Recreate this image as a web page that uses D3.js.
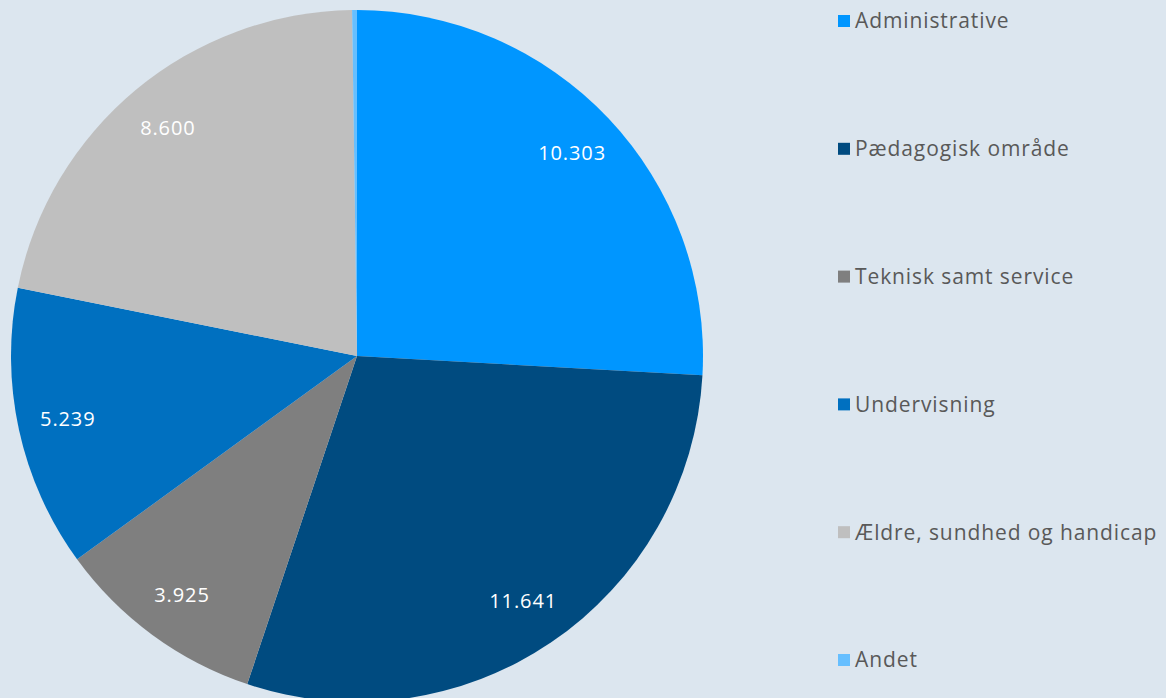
<!DOCTYPE html>
<html>
<head>
<meta charset="utf-8">
<script src="https://cdn.jsdelivr.net/npm/d3@7"></script>
<style>
  body { margin: 0; background: #dce6ef; }
  svg { display: block; }
</style>
</head>
<body>
<div id="chart"></div>
<script>
// Data
const categories = ["Administrative", "Pædagogisk område", "Teknisk samt service", "Undervisning", "Ældre, sundhed og handicap", "Andet"];
const values = [10303, 11641, 3925, 5239, 8600, 90];
const labels = ["10.303", "11.641", "3.925", "5.239", "8.600", ""];
const colors = ["#0096ff", "#004b80", "#7f7f7f", "#0070c0", "#bfbfbf", "#66bfff"];

const width = 1166;
const height = 698;
const cx = 357, cy = 356, radius = 346;
const font = "'Open Sans', 'Noto Sans', sans-serif";

const data = categories.map((c, i) => ({ name: c, value: values[i], label: labels[i], color: colors[i] }));

const svg = d3.select("#chart")
    .append("svg")
    .attr("width", width)
    .attr("height", height);

svg.append("rect")
    .attr("width", width)
    .attr("height", height)
    .attr("fill", "#dce6ef");

const pie = d3.pie()
    .value(d => d.value)
    .sort(null);

const arc = d3.arc()
    .innerRadius(0)
    .outerRadius(radius);

const labelArc = d3.arc()
    .innerRadius(296)
    .outerRadius(296);

const g = svg.append("g")
    .attr("transform", `translate(${cx},${cy})`);

const arcs = pie(data);

g.selectAll("path")
    .data(arcs)
    .join("path")
    .attr("d", arc)
    .attr("fill", d => d.data.color);

g.selectAll("text")
    .data(arcs.filter(d => d.data.label))
    .join("text")
    .attr("transform", d => `translate(${labelArc.centroid(d)})`)
    .attr("text-anchor", "middle")
    .attr("dy", "0.35em")
    .attr("fill", "#ffffff")
    .style("font-family", font)
    .style("font-size", "20px")
    .style("letter-spacing", "0.9px")
    .text(d => d.data.label);

// Legend
const legendY = d3.scalePoint()
    .domain(categories)
    .range([21, 660]);

const legend = svg.append("g")
    .selectAll("g")
    .data(data)
    .join("g")
    .attr("transform", d => `translate(838,${legendY(d.name)})`);

legend.append("rect")
    .attr("x", 0)
    .attr("y", -6)
    .attr("width", 12)
    .attr("height", 12)
    .attr("fill", d => d.color);

legend.append("text")
    .attr("x", 17)
    .attr("dy", "0.35em")
    .attr("fill", "#595959")
    .style("font-family", font)
    .style("font-size", "21px")
    .style("letter-spacing", "0.9px")
    .text(d => d.name);
</script>
</body>
</html>
